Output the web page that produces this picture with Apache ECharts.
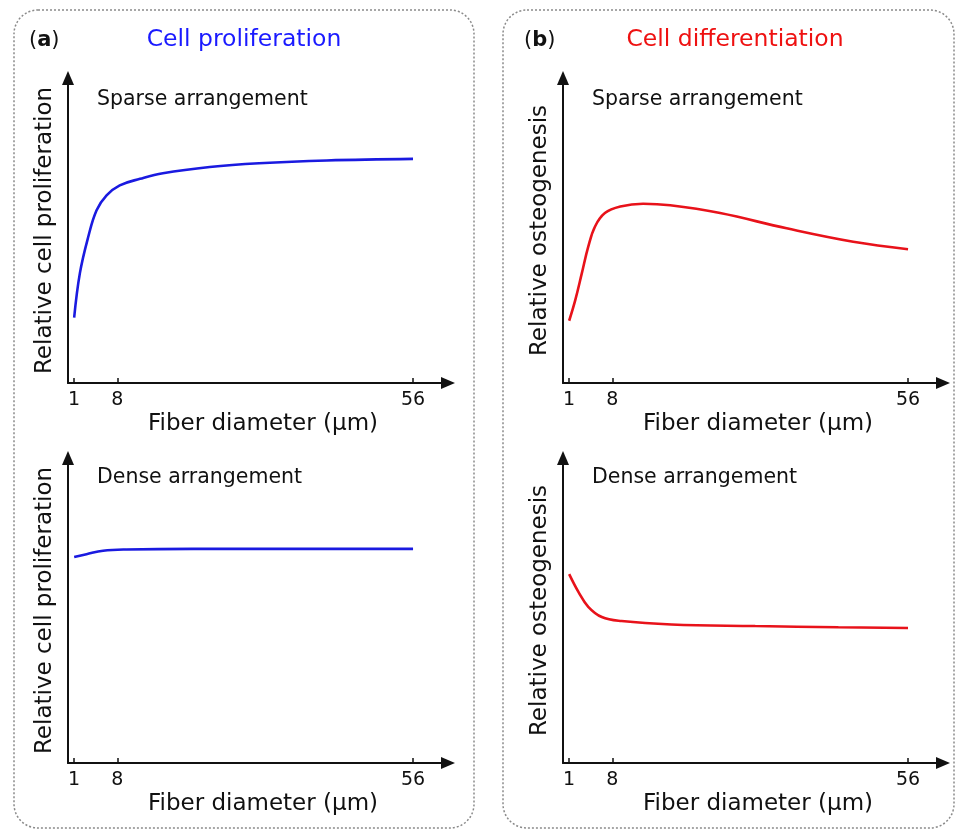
<!DOCTYPE html>
<html><head><meta charset="utf-8">
<script src="https://cdn.jsdelivr.net/npm/echarts@6/dist/echarts.min.js"></script>
<style>html,body{margin:0;padding:0;background:#fff}#c{width:957px;height:831px}</style>
</head><body><div id="c"></div>
<script>
// ---- data ----
const xTicks = [1, 8, 56];
// (a) proliferation, sparse
const propSparseX = [1, 1.93, 3.28, 4.64, 6.26, 8.4, 11.7, 15.4, 23, 31, 42, 56];
const propSparseY = [21, 35.3, 46.9, 55.5, 60.3, 63.5, 65.6, 67.4, 69.4, 70.6, 71.5, 72.0];
// (a) proliferation, dense
const propDenseX = [1, 3, 5.7, 9.5, 20.3, 56];
const propDenseY = [66.2, 67.1, 68.2, 68.6, 68.8, 68.8];
// (b) osteogenesis, sparse
const ostSparseX = [1, 2, 3.06, 4.1, 5.2, 6.8, 9.3, 13, 17.4, 25.5, 36.3, 47.1, 56];
const ostSparseY = [20.0, 26.7, 35.3, 43.8, 50.3, 54.6, 56.7, 57.6, 57.1, 54.6, 49.7, 45.4, 43.0];
// (b) osteogenesis, dense
const ostDenseX = [1, 2.5, 4.1, 6.3, 9.5, 17.6, 31.2, 44.7, 56];
const ostDenseY = [60.7, 55.0, 50.2, 46.9, 45.6, 44.5, 44.0, 43.6, 43.4];

const pairs = (xs, ys) => xs.map((x, i) => [x, ys[i]]);

const FONT = '"DejaVu Sans", Verdana, sans-serif';
const BLUE = '#1a1ae0';
const RED = '#e8121a';
const INK = '#111';

const grids = [
  {left: 68, top: 78, width: 382, height: 305},
  {left: 68, top: 458, width: 382, height: 305},
  {left: 563, top: 78, width: 382, height: 305},
  {left: 563, top: 458, width: 382, height: 305}
];
const yNames = ['Relative cell proliferation', 'Relative cell proliferation', 'Relative osteogenesis', 'Relative osteogenesis'];

const xAxes = grids.map((g, i) => ({
  type: 'value', gridIndex: i, min: 0, max: 62,
  splitLine: {show: false},
  axisLine: {show: true, onZero: false, symbol: ['none', 'triangle'], symbolSize: [12, 14], symbolOffset: [0, -2], lineStyle: {color: INK, width: 2}},
  axisTick: {show: true, inside: true, length: 5, customValues: xTicks, lineStyle: {color: INK, width: 1.5}},
  axisLabel: {show: true, customValues: xTicks, margin: 8, color: INK, fontSize: 19, fontFamily: FONT},
  name: 'Fiber diameter (\u03bcm)', nameLocation: 'middle', nameGap: 30,
  nameTextStyle: {color: INK, fontSize: 23, fontFamily: FONT, padding: [0, 0, 0, 8]}
}));
const yAxes = grids.map((g, i) => ({
  type: 'value', gridIndex: i, min: 0, max: 98,
  splitLine: {show: false},
  axisLine: {show: true, onZero: false, symbol: ['none', 'triangle'], symbolSize: [12, 14], lineStyle: {color: INK, width: 2}},
  axisTick: {show: false}, axisLabel: {show: false},
  name: yNames[i], nameLocation: 'middle', nameGap: 11,
  nameTextStyle: {color: INK, fontSize: 23, fontFamily: FONT}
}));

const mk = (i, data, color) => ({
  type: 'line', xAxisIndex: i, yAxisIndex: i, data: data, smooth: 0.4,
  showSymbol: false, symbol: 'none', lineStyle: {color: color, width: 2.6}, silent: true, animation: false
});

const txt = (x, y, text, opts) => Object.assign({
  type: 'text', x: x, y: y,
  style: Object.assign({text: text, font: '20.5px ' + FONT, fill: INK, textVerticalAlign: 'middle'}, opts || {})
});

const chart = echarts.init(document.getElementById('c'), null, {renderer: 'canvas'});
chart.setOption({
  animation: false,
  backgroundColor: '#fff',
  grid: grids,
  xAxis: xAxes,
  yAxis: yAxes,
  series: [
    mk(0, pairs(propSparseX, propSparseY), BLUE),
    mk(1, pairs(propDenseX, propDenseY), BLUE),
    mk(2, pairs(ostSparseX, ostSparseY), RED),
    mk(3, pairs(ostDenseX, ostDenseY), RED)
  ],
  graphic: [
    {type: 'rect', shape: {x: 14, y: 10, width: 460, height: 818, r: 24}, style: {fill: 'none', stroke: '#8a8a8a', lineWidth: 1.5, lineDash: [2, 2]}},
    {type: 'rect', shape: {x: 503, y: 10, width: 451, height: 818, r: 24}, style: {fill: 'none', stroke: '#8a8a8a', lineWidth: 1.5, lineDash: [2, 2]}},
    {type: 'text', x: 29, y: 41, style: {text: '({b|a})', rich: {b: {fontWeight: 'bold', fontSize: 21, fontFamily: FONT, fill: INK}}, font: '21px ' + FONT, fill: INK, textVerticalAlign: 'middle'}},
    {type: 'text', x: 524, y: 41, style: {text: '({b|b})', rich: {b: {fontWeight: 'bold', fontSize: 21, fontFamily: FONT, fill: INK}}, font: '21px ' + FONT, fill: INK, textVerticalAlign: 'middle'}},
    txt(244, 40, 'Cell proliferation', {font: '23.5px ' + FONT, fill: '#1a1aff', textAlign: 'center'}),
    txt(735, 40, 'Cell differentiation', {font: '23.5px ' + FONT, fill: '#ee1111', textAlign: 'center'}),
    txt(97, 100, 'Sparse arrangement'),
    txt(97, 478, 'Dense arrangement'),
    txt(592, 100, 'Sparse arrangement'),
    txt(592, 478, 'Dense arrangement')
  ]
});
</script></body></html>
